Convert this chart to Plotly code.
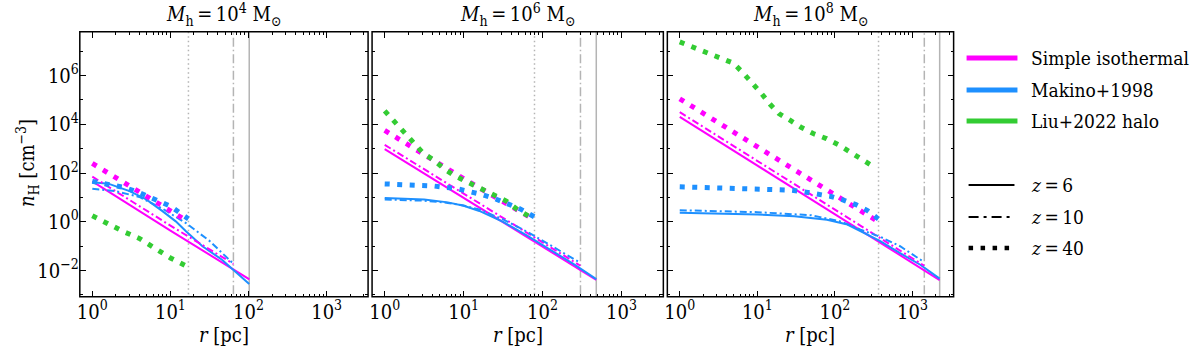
import plotly.graph_objects as go

# ---------------- data ----------------
model_names = ["Simple isothermal", "Makino+1998", "Liu+2022 halo"]
model_colors = ["#FF00FF", "#1E90FF", "#33CC33"]
z_labels = ["<i>z</i>\u2009=\u20096", "<i>z</i>\u2009=\u200910", "<i>z</i>\u2009=\u200940"]
panel_titles = [
    "<i>M</i><sub>h</sub>\u2009=\u200910<sup>4</sup> M<sub>⊙</sub>",
    "<i>M</i><sub>h</sub>\u2009=\u200910<sup>6</sup> M<sub>⊙</sub>",
    "<i>M</i><sub>h</sub>\u2009=\u200910<sup>8</sup> M<sub>⊙</sub>",
]

# virial radii [pc] for z = 6, 10, 40 (vertical grey lines)
rvir_m4 = [102, 64, 17]
rvir_m6 = [479, 302, 79]
rvir_m8 = [2240, 1420, 365]

# ---- M_h = 1e4 ----
r_iso_m4_z6 = [1, 10, 100, 102]
n_iso_m4_z6 = [46, 0.44, 4.6e-3, 4.3e-3]
r_iso_m4_z10 = [1, 10, 64]
n_iso_m4_z10 = [72, 0.70, 1.9e-2]
r_iso_m4_z40 = [1, 10, 17]
n_iso_m4_z40 = [250, 2.8, 1.0]

r_mak_m4_z6 = [1, 1.6, 3.0, 4.9, 7.9, 11.7, 15.8, 25.7, 45.7, 102]
n_mak_m4_z6 = [41.7, 37, 18.2, 8.3, 2.75, 1.05, 0.41, 0.10, 0.028, 2.8e-3]
r_mak_m4_z10 = [1, 2, 4, 7.9, 15.8, 31.6, 64]
n_mak_m4_z10 = [22.9, 18.2, 10.5, 3.5, 0.89, 0.166, 0.019]
r_mak_m4_z40 = [1, 1.58, 2.5, 4, 6.3, 10, 14.1, 17]
n_mak_m4_z40 = [45.7, 36.3, 26.3, 15.8, 8.3, 4.4, 2.0, 1.32]

r_liu_m4_z40 = [1, 1.58, 2.5, 4, 6.3, 10, 17]
n_liu_m4_z40 = [1.78, 0.79, 0.40, 0.21, 0.089, 0.033, 0.014]

# ---- M_h = 1e6 ----
r_iso_m6_z6 = [1, 10, 100, 479]
n_iso_m6_z6 = [955, 9.5, 0.095, 4.2e-3]
r_iso_m6_z10 = [1, 10, 100, 302]
n_iso_m6_z10 = [1445, 14.5, 0.145, 0.0158]
r_iso_m6_z40 = [1, 10, 79]
n_iso_m6_z40 = [5620, 59, 1.2]

r_mak_m6_z6 = [1, 3.16, 6.3, 10, 15.8, 31.6, 63, 126, 251, 479]
n_mak_m6_z6 = [9.5, 8.3, 6.3, 4.6, 2.8, 1.0, 0.28, 0.072, 0.018, 4.5e-3]
r_mak_m6_z10 = [1, 3.16, 6.3, 10, 15.8, 31.6, 63, 126, 200, 302]
n_mak_m6_z10 = [8.3, 7.4, 6.0, 4.7, 3.2, 1.26, 0.40, 0.112, 0.048, 0.021]
r_mak_m6_z40 = [1, 2, 4, 8, 12, 17, 25, 36, 52, 79]
n_mak_m6_z40 = [36, 33, 30, 23.4, 18.2, 13.2, 8.9, 5.6, 3.4, 1.6]

r_liu_m6_z40 = [1, 1.38, 1.82, 2.34, 3.09, 4.17, 5.75, 8.1, 11.7, 17, 24.5, 34.7, 47.9, 66, 79]
n_liu_m6_z40 = [35500, 11700, 4570, 1660, 646, 347, 141, 71, 40, 23.4, 12.6, 7.1, 3.2, 1.7, 1.26]

# ---- M_h = 1e8 ----
r_iso_m8_z6 = [1, 10, 100, 1000, 2240]
n_iso_m8_z6 = [20400, 204, 2.04, 0.0204, 4.1e-3]
r_iso_m8_z10 = [1, 10, 100, 1000, 1420]
n_iso_m8_z10 = [31600, 316, 3.16, 0.0316, 0.0158]
r_iso_m8_z40 = [1, 10, 100, 365]
n_iso_m8_z40 = [112000, 1150, 11.5, 1.0]

r_mak_m8_z6 = [1, 10, 30, 79, 145, 234, 389, 692, 1260, 2240]
n_mak_m8_z6 = [2.34, 2.0, 1.7, 1.23, 0.78, 0.355, 0.158, 0.052, 0.0174, 4.7e-3]
r_mak_m8_z10 = [1, 10, 50, 117, 214, 389, 692, 1410]
n_mak_m8_z10 = [3.0, 2.5, 1.86, 1.05, 0.48, 0.24, 0.10, 0.0224]
r_mak_m8_z40 = [1, 10, 27, 40, 59, 87, 129, 186, 263, 363]
n_mak_m8_z40 = [27.5, 23.4, 20, 17, 14.5, 11.2, 7.8, 5.1, 2.9, 1.32]

r_liu_m8_z40 = [1, 1.62, 2.34, 3.39, 4.9, 6.6, 8.5, 11.2, 14.5, 19, 26.3, 37, 52.5, 77.6,
                110, 155, 219, 331]
n_liu_m8_z40 = [2.4e7, 1.32e7, 8.5e6, 5.25e6, 3.24e6, 1.26e6, 5.25e5, 1.9e5, 6.8e4, 2.75e4,
                1.48e4, 7.4e3, 4.2e3, 2.6e3, 1.48e3, 776, 363, 166]

# ---------------- styling ----------------
FONT = "DejaVu Serif Condensed, DejaVu Serif"
W, H = 1200, 350
DASHES = ["solid", "7px,3px,2px,3px", "5px,7.5px"]
WIDTHS = [2, 2, 5]
VDASH = ["solid", "9px,3px,1.5px,3px", "1.5px,3px"]

# panel frames in pixels
px_left = [77, 370, 666]
px_right = [366, 662, 953]
py_top, py_bot = 31.7, 296.7

panels = [
    (rvir_m4, [[(r_iso_m4_z6, n_iso_m4_z6), (r_iso_m4_z10, n_iso_m4_z10), (r_iso_m4_z40, n_iso_m4_z40)],
               [(r_mak_m4_z6, n_mak_m4_z6), (r_mak_m4_z10, n_mak_m4_z10), (r_mak_m4_z40, n_mak_m4_z40)],
               [None, None, (r_liu_m4_z40, n_liu_m4_z40)]]),
    (rvir_m6, [[(r_iso_m6_z6, n_iso_m6_z6), (r_iso_m6_z10, n_iso_m6_z10), (r_iso_m6_z40, n_iso_m6_z40)],
               [(r_mak_m6_z6, n_mak_m6_z6), (r_mak_m6_z10, n_mak_m6_z10), (r_mak_m6_z40, n_mak_m6_z40)],
               [None, None, (r_liu_m6_z40, n_liu_m6_z40)]]),
    (rvir_m8, [[(r_iso_m8_z6, n_iso_m8_z6), (r_iso_m8_z10, n_iso_m8_z10), (r_iso_m8_z40, n_iso_m8_z40)],
               [(r_mak_m8_z6, n_mak_m8_z6), (r_mak_m8_z10, n_mak_m8_z10), (r_mak_m8_z40, n_mak_m8_z40)],
               [None, None, (r_liu_m8_z40, n_liu_m8_z40)]]),
]

fig = go.Figure()

for p, (rvir, curves) in enumerate(panels):
    xa = "x" if p == 0 else f"x{p+1}"
    ya = "y" if p == 0 else f"y{p+1}"
    for k in range(3):
        fig.add_trace(go.Scatter(
            x=[rvir[k], rvir[k]], y=[1e-5, 1e10], mode="lines",
            line=dict(color="#B4B4B4", width=1.5, dash=VDASH[k]),
            xaxis=xa, yaxis=ya, showlegend=False, hoverinfo="skip"))
    for k in range(3):
        for m in range(3):
            c = curves[m][k]
            if c is None:
                continue
            fig.add_trace(go.Scatter(
                x=c[0], y=c[1], mode="lines",
                line=dict(color=model_colors[m], width=WIDTHS[k], dash=DASHES[k]),
                xaxis=xa, yaxis=ya, showlegend=False, hoverinfo="skip"))

x_major = [1, 10, 100, 1000]
x_minor = [s * 10 ** e for e in range(0, 4) for s in range(2, 10)]
y_major = [1e-2, 1, 1e2, 1e4, 1e6]
y_minor = [1e-3, 1e-1, 10, 1e3, 1e5, 1e7]
y_ticktext = ["10<sup>−2</sup>", "10<sup>0</sup>", "10<sup>2</sup>", "10<sup>4</sup>", "10<sup>6</sup>"]

layout = dict(
    width=W, height=H, margin=dict(l=0, r=0, t=0, b=0),
    paper_bgcolor="white", plot_bgcolor="white", showlegend=False,
    font=dict(family=FONT, size=20, color="black"),
)
shapes = []
for p in range(3):
    sx = "xaxis" if p == 0 else f"xaxis{p+1}"
    sy = "yaxis" if p == 0 else f"yaxis{p+1}"
    xa = "x" if p == 0 else f"x{p+1}"
    ya = "y" if p == 0 else f"y{p+1}"
    layout[sx] = dict(
        type="log", range=[-0.16, 3.53],
        domain=[px_left[p] / W, px_right[p] / W], anchor=ya,
        showgrid=False, zeroline=False, showline=False, mirror="ticks",
        ticks="inside", ticklen=6, tickwidth=1.2, tickcolor="black",
        tickvals=x_major, ticktext=[f"10<sup>{e}</sup>" for e in range(4)],
        tickfont=dict(family=FONT, size=20), ticklabelstandoff=1,
        minor=dict(ticks="inside", ticklen=3, tickwidth=1, tickcolor="black",
                   tickvals=x_minor, showgrid=False),
    )
    layout[sy] = dict(
        type="log", range=[-3.07, 7.8],
        domain=[1 - py_bot / H, 1 - py_top / H], anchor=xa,
        showgrid=False, zeroline=False, showline=False, mirror="ticks",
        ticks="inside", ticklen=6, tickwidth=1.2, tickcolor="black",
        tickvals=y_major, ticktext=y_ticktext, showticklabels=(p == 0),
        tickfont=dict(family=FONT, size=20),
        minor=dict(ticks="inside", ticklen=3, tickwidth=1, tickcolor="black",
                   tickvals=y_minor, showgrid=False),
    )
    # panel frame
    shapes.append(dict(type="rect", xref=f"{xa} domain", yref=f"{ya} domain",
                       x0=0, x1=1, y0=0, y1=1, line=dict(color="black", width=1.5),
                       fillcolor="rgba(0,0,0,0)", layer="above"))
fig.update_layout(**layout)

ann = []
for p in range(3):
    cx = (px_left[p] + px_right[p]) / 2 / W
    ann.append(dict(text=panel_titles[p], x=cx, y=1 - 15 / H, xref="paper", yref="paper",
                    showarrow=False, font=dict(family=FONT, size=20),
                    xanchor="center", yanchor="middle"))
    ann.append(dict(text="<i>r</i> [pc]", x=cx, y=1 - 335 / H, xref="paper", yref="paper",
                    showarrow=False, font=dict(family=FONT, size=20),
                    xanchor="center", yanchor="middle"))
ann.append(dict(text="<i>n</i><sub>H</sub> [cm<sup>−3</sup>]", x=24 / W, y=1 - 163 / H,
                xref="paper", yref="paper", showarrow=False, textangle=-90,
                font=dict(family=FONT, size=20), xanchor="center", yanchor="middle"))

# legend, drawn by hand to the right of the panels
leg_rows_model = [58, 90, 121]
leg_rows_z = [185, 217, 248]
for m in range(3):
    y = 1 - leg_rows_model[m] / H
    shapes.append(dict(type="line", xref="paper", yref="paper", x0=966 / W, x1=1017 / W,
                       y0=y, y1=y, line=dict(color=model_colors[m], width=5)))
    ann.append(dict(text=model_names[m], x=1029 / W, y=y, xref="paper", yref="paper",
                    showarrow=False, xanchor="left", yanchor="middle",
                    font=dict(family=FONT, size=19)))
for k in range(3):
    y = 1 - leg_rows_z[k] / H
    shapes.append(dict(type="line", xref="paper", yref="paper", x0=968 / W, x1=1014 / W,
                       y0=y, y1=y, line=dict(color="black", width=[2, 2, 4.5][k],
                                             dash=["solid", "10px,5px,3px,5px", "4.5px,7.5px"][k])))
    ann.append(dict(text=z_labels[k], x=1029 / W, y=y, xref="paper", yref="paper",
                    showarrow=False, xanchor="left", yanchor="middle",
                    font=dict(family=FONT, size=19)))

fig.update_layout(annotations=ann, shapes=shapes)
fig.write_html("out.html", config={"displayModeBar": False},
               post_script="document.body.style.margin='0';")
